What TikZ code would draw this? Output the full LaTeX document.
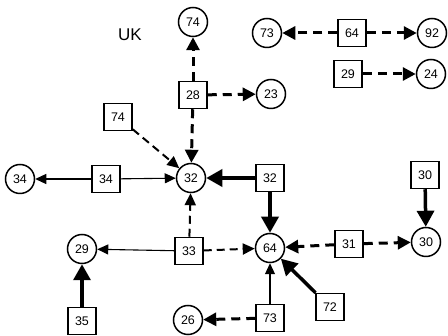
\documentclass[tikz,border=0pt]{standalone}
\usepackage{fontspec}
\setmainfont{Liberation Sans}
\usetikzlibrary{arrows.meta}

\tikzset{
  circ/.style={circle, draw, line width=1.5pt, minimum size=29pt, inner sep=0pt,
    font=\fontsize{12.5}{12.5}\selectfont},
  sq/.style={rectangle, draw, line width=1.5pt, minimum width=28pt, minimum height=27pt,
    inner sep=0pt, font=\fontsize{12.5}{12.5}\selectfont},
  plainarr/.style={line width=1.1pt, -{Triangle[length=11pt,width=10pt]}},
  middash/.style={line width=2pt, dash pattern=on 8pt off 5pt,
    -{Triangle[length=12pt,width=11pt]}},
  bolddash/.style={line width=3pt, dash pattern=on 9pt off 6pt,
    -{Triangle[length=13pt,width=13pt]}},
  heavyarr/.style={line width=3.5pt, -{Triangle[length=16pt,width=17pt]}}
}

\begin{document}
\begin{tikzpicture}[x=1pt,y=-1pt]
  \useasboundingbox (0,0) rectangle (448,336);

  \node[font=\fontsize{17}{17}\selectfont] (uk) at (130,35) {UK};

  % circles
  \node[circ] (c74) at (193,22) {74};
  \node[circ] (c73) at (267,33) {73};
  \node[circ] (c92) at (432,33) {92};
  \node[circ] (c24) at (431,74) {24};
  \node[circ] (c23) at (271,94) {23};
  \node[circ] (c32) at (191,178) {32};
  \node[circ] (c34) at (20,179) {34};
  \node[circ] (c29) at (82,249) {29};
  \node[circ] (c64) at (270,248) {64};
  \node[circ] (c30) at (426,242) {30};
  \node[circ] (c26) at (188,320) {26};

  % squares
  \node[sq] (s28) at (193,95) {28};
  \node[sq] (s74) at (118,117) {74};
  \node[sq] (s64) at (352,33) {64};
  \node[sq] (s29) at (348,74) {29};
  \node[sq] (s34) at (106,179) {34};
  \node[sq] (s32) at (270,178) {32};
  \node[sq] (s30) at (425,175) {30};
  \node[sq] (s33) at (189,251) {33};
  \node[sq] (s31) at (349,244) {31};
  \node[sq] (s35) at (82,321) {35};
  \node[sq] (s73) at (270,318) {73};
  \node[sq] (s72) at (330,307) {72};

  % links
  \draw[bolddash] (s28) -- (c74);
  \draw[bolddash] (s28) -- (c23);
  \draw[bolddash] (s28) -- (c32);
  \draw[middash] (s74) -- (c32);
  \draw[bolddash] (s64) -- (c73);
  \draw[bolddash] (s64) -- (c92);
  \draw[bolddash] (s29) -- (c24);
  \draw[plainarr] (s34) -- (c34);
  \draw[plainarr] (s34) -- (c32);
  \draw[heavyarr] (s32) -- (c32);
  \draw[heavyarr] (s32) -- (c64);
  \draw[heavyarr] (s30) -- (c30);
  \draw[middash] (s33) -- (c32);
  \draw[plainarr] (s33) -- (c29);
  \draw[middash] (s33) -- (c64);
  \draw[bolddash] (s31) -- (c64);
  \draw[bolddash] (s31) -- (c30);
  \draw[heavyarr] (s35) -- (c29);
  \draw[plainarr] (s73) -- (c64);
  \draw[bolddash] (s73) -- (c26);
  \draw[heavyarr] (s72) -- (c64);
\end{tikzpicture}
\end{document}
